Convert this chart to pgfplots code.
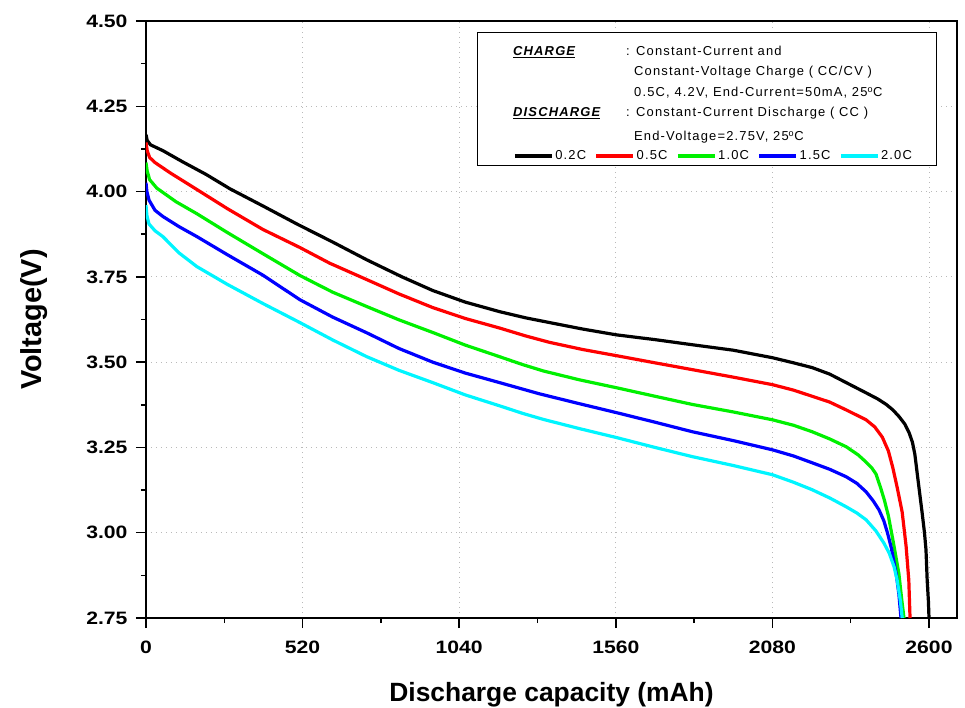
\documentclass[border=0pt]{standalone}
\usepackage{fontspec}
\setmainfont{Liberation Sans}
\newfontfamily\lgfont[LetterSpace=9]{Liberation Sans}
\newfontfamily\tkfont[FakeStretch=1.18]{Liberation Sans}
\usepackage{pgfplots}
\pgfplotsset{compat=1.18}
\definecolor{cgreen}{RGB}{0,240,0}
\definecolor{ccyan}{RGB}{0,245,255}
\pgfplotsset{
  frame/.style={at={(0,0)}, anchor=south west,
    scale only axis, width=811bp, height=597bp,
    xmin=0, xmax=2693, ymin=2.75, ymax=4.5},
}
\begin{document}
\begin{tikzpicture}
\useasboundingbox (-146bp,-90bp) rectangle (819bp,618bp);
\begin{axis}[
    frame,
    xtick={0,520,1040,1560,2080,2600},
    ytick={2.75,3.00,3.25,3.50,3.75,4.00,4.25,4.50},
    minor tick num=1,
    xtick pos=bottom, ytick pos=left,
    tick align=outside,
    major tick length=10bp, minor tick length=5bp,
    every tick/.style={black, line width=1.5bp},
    axis line style={line width=2bp},
    grid=major,
    major grid style={gray!55, line width=0.8bp, dash pattern=on 1bp off 4bp},
    /pgf/number format/assume math mode=true,
    /pgf/number format/1000 sep={},
    yticklabel style={/pgf/number format/fixed, /pgf/number format/fixed zerofill,
      /pgf/number format/precision=2, xshift=-5bp},
    xticklabel style={yshift=-9bp},
    ticklabel style={font=\tkfont\bfseries\fontsize{18}{18}\selectfont},
    xlabel={Discharge capacity (mAh)},
    ylabel={Voltage(V)},
    xlabel style={font=\bfseries\fontsize{26.5}{26.5}\selectfont, yshift=-22bp},
    ylabel style={font=\bfseries\fontsize{29}{29}\selectfont, yshift=32bp},
    every axis plot/.append style={line width=3.2bp, line join=round},
  ]
\addplot[black] coordinates {
 (0,4.167) (4,4.15) (15,4.137) (56,4.12) (120,4.088) (200,4.05) (279,4.008)
 (390,3.957) (501,3.905) (620,3.852) (733,3.80) (850,3.75) (952,3.71)
 (1060,3.676) (1174,3.648) (1260,3.63) (1340,3.616) (1450,3.597) (1562,3.58)
 (1690,3.566) (1814,3.551) (1950,3.535) (2080,3.513) (2150,3.498) (2212,3.484)
 (2270,3.465) (2325,3.44) (2391,3.41) (2430,3.392) (2458,3.376) (2480,3.36)
 (2501,3.34) (2520,3.318) (2534,3.293) (2545,3.265) (2553,3.23) (2560,3.18)
 (2567,3.13) (2577,3.06) (2585,3.00) (2590,2.95) (2594,2.86) (2598,2.80) (2600,2.75)};
\addplot[red] coordinates {
 (0,4.144) (4,4.12) (12,4.10) (30,4.085) (80,4.055) (169,4.006) (270,3.95)
 (388,3.889) (511,3.836) (610,3.79) (733,3.742) (840,3.70) (952,3.66)
 (1060,3.628) (1174,3.60) (1260,3.577) (1340,3.558) (1450,3.537) (1562,3.519)
 (1690,3.498) (1814,3.478) (1950,3.456) (2080,3.434) (2150,3.418) (2212,3.40)
 (2270,3.383) (2325,3.36) (2391,3.331) (2420,3.31) (2445,3.28) (2465,3.24)
 (2480,3.19) (2495,3.13) (2511,3.06) (2524,2.96) (2533,2.86) (2537,2.75)};
\addplot[cgreen] coordinates {
 (0,4.085) (4,4.06) (12,4.035) (36,4.01) (100,3.97) (169,3.935) (270,3.88)
 (388,3.818) (511,3.754) (620,3.705) (733,3.663) (840,3.624) (952,3.587)
 (1060,3.55) (1174,3.516) (1250,3.493) (1320,3.474) (1440,3.448) (1562,3.425)
 (1690,3.40) (1814,3.376) (1950,3.354) (2080,3.331) (2150,3.315) (2212,3.296)
 (2270,3.275) (2325,3.252) (2365,3.228) (2391,3.207) (2410,3.19) (2424,3.172)
 (2440,3.13) (2452,3.095) (2465,3.05) (2482,2.97) (2500,2.88) (2510,2.80) (2517,2.75)};
\addplot[blue] coordinates {
 (0,4.026) (3,4.00) (10,3.975) (30,3.945) (56,3.927) (110,3.897) (169,3.868)
 (270,3.815) (388,3.755) (511,3.683) (620,3.632) (733,3.586) (840,3.54) (952,3.50)
 (1060,3.468) (1174,3.44) (1307,3.407) (1440,3.378) (1562,3.352) (1690,3.324)
 (1814,3.296) (1950,3.27) (2080,3.243) (2150,3.225) (2212,3.205) (2270,3.186)
 (2325,3.164) (2360,3.145) (2391,3.12) (2415,3.093) (2434,3.067) (2450,3.035)
 (2462,3.00) (2475,2.955) (2491,2.88) (2500,2.82) (2507,2.75)};
\addplot[ccyan] coordinates {
 (0,3.96) (3,3.93) (10,3.905) (30,3.885) (56,3.868) (110,3.82) (169,3.78)
 (270,3.728) (388,3.672) (511,3.616) (620,3.565) (733,3.516) (840,3.476)
 (952,3.44) (1060,3.404) (1174,3.372) (1250,3.35) (1320,3.332) (1440,3.305)
 (1562,3.279) (1690,3.25) (1814,3.223) (1950,3.197) (2080,3.17) (2150,3.148)
 (2212,3.126) (2270,3.102) (2325,3.076) (2360,3.058) (2391,3.038) (2424,3.005)
 (2450,2.97) (2468,2.94) (2484,2.90) (2494,2.862) (2505,2.80) (2511,2.75)};
\end{axis}
% condition box
\draw[line width=1bp, fill=white] (331bp,452bp) rectangle (790bp,585bp);
\begin{scope}[every node/.style={inner sep=0pt, anchor=base west, font=\lgfont\fontsize{13}{14}\selectfont}]
\node at (367bp,562bp) {\underline{\bfseries\itshape CHARGE}};
\node at (480bp,562bp) {: Constant-Current and};
\node at (488bp,542bp) {Constant-Voltage Charge ( CC/CV )};
\node at (488bp,521bp) {0.5C, 4.2V, End-Current=50mA, 25\textsuperscript{o}C};
\node at (367bp,501bp) {\underline{\bfseries\itshape DISCHARGE}};
\node at (480bp,501bp) {: Constant-Current Discharge ( CC )};
\node at (488bp,477bp) {End-Voltage=2.75V, 25\textsuperscript{o}C};
\end{scope}
% legend on top of the box
\begin{axis}[
    frame, hide axis,
    legend columns=5,
    legend style={at={(0.4525,0.774)}, anchor=west, draw=none, fill=none,
      inner sep=0pt, font=\lgfont\fontsize{13}{14}\selectfont,
      nodes={inner xsep=1.5bp, inner ysep=0bp},
      /tikz/every even column/.append style={column sep=7bp}},
    legend image code/.code={\draw[#1] (0bp,0bp) -- (37bp,0bp);},
  ]
\addlegendimage{black, line width=3.6bp}
\addlegendentry{0.2C}
\addlegendimage{red, line width=3.6bp}
\addlegendentry{0.5C}
\addlegendimage{cgreen, line width=3.6bp}
\addlegendentry{1.0C}
\addlegendimage{blue, line width=3.6bp}
\addlegendentry{1.5C}
\addlegendimage{ccyan, line width=3.6bp}
\addlegendentry{2.0C}
\end{axis}
\end{tikzpicture}
\end{document}
